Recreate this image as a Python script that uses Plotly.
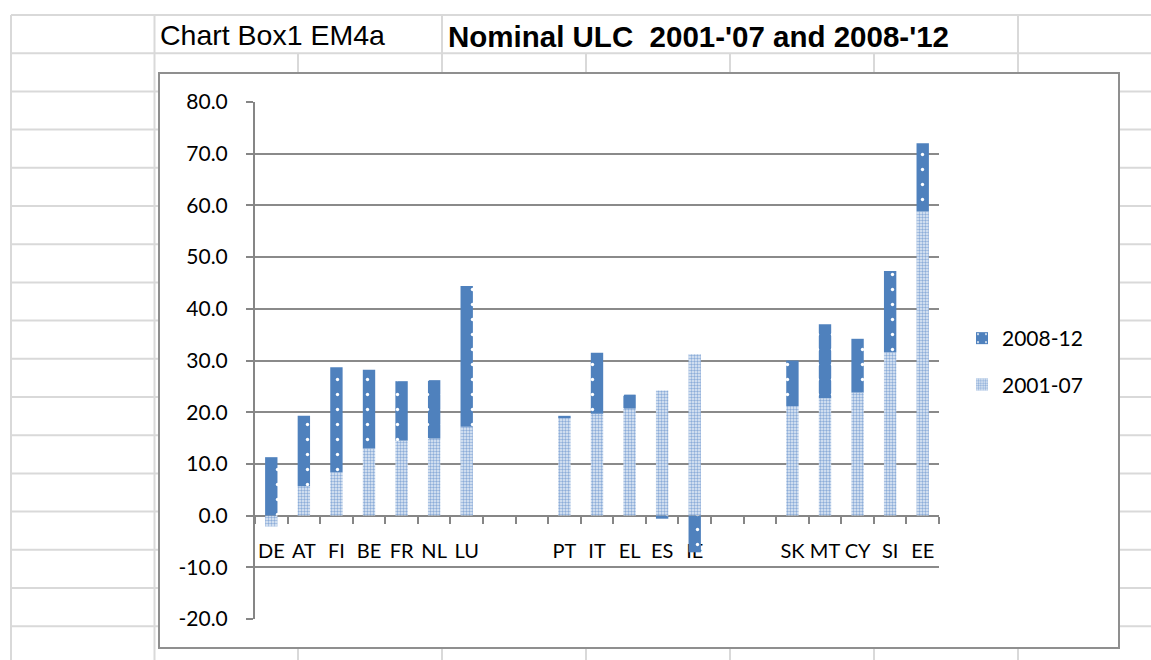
import plotly.graph_objects as go

# Countries in chart order; blank slots separate the three country groups
categories = ["DE", "AT", "FI", "BE", "FR", "NL", "LU", " ", "  ",
              "PT", "IT", "EL", "ES", "IE", "   ", "    ",
              "SK", "MT", "CY", "SI", "EE"]
countries = ["DE", "AT", "FI", "BE", "FR", "NL", "LU",
             "PT", "IT", "EL", "ES", "IE",
             "SK", "MT", "CY", "SI", "EE"]
ulc_2001_07 = [-2.1, 5.7, 8.4, 13.0, 14.5, 14.9, 17.2,
               19.0, 19.7, 20.7, 24.2, 31.2,
               21.2, 22.7, 23.8, 31.6, 58.8]
ulc_2008_12 = [11.3, 13.6, 20.3, 15.2, 11.5, 11.3, 27.2,
               0.3, 11.8, 2.7, -0.6, -7.1,
               8.8, 14.3, 10.4, 15.7, 13.2]
y_ticks = [-20, -10, 0, 10, 20, 30, 40, 50, 60, 70, 80]
y_ticktext = ["%.1f" % v for v in y_ticks]

W, H = 1151, 660
PL, PR, PT, PB = 255, 939, 102, 619   # plot area in pixels


def fx(x):
    return (x - PL) / (PR - PL)


def fy(y):
    return (PB - y) / (PB - PT)


GRID = "#d9d9d9"
shapes = []


def hline(y, x0, x1, color=GRID, width=2):
    shapes.append(dict(type="line", xref="paper", yref="paper", layer="below",
                       x0=fx(x0), x1=fx(x1), y0=fy(y), y1=fy(y),
                       line=dict(color=color, width=width)))


def vline(x, y0, y1, color=GRID, width=2):
    shapes.append(dict(type="line", xref="paper", yref="paper", layer="below",
                       x0=fx(x), x1=fx(x), y0=fy(y0), y1=fy(y1),
                       line=dict(color=color, width=width)))


# worksheet cell grid behind the chart object
rows = [15 + 38.2 * k for k in range(18)]
cols = [11, 154.5, 298, 442, 586, 730, 874, 1018]
for r in rows:
    hline(r, 11, W + 5)
for c in cols:
    vline(c, 53, H + 5)
for c in [11, 154.5, 442, 1018]:
    vline(c, 15, 53)

# chart object frame
shapes.append(dict(type="rect", xref="paper", yref="paper", layer="below",
                   x0=fx(159), x1=fx(1119), y0=fy(73), y1=fy(648),
                   fillcolor="white", line=dict(color="#8f8f8f", width=2)))

fig = go.Figure()
fig.add_trace(go.Bar(
    x=countries, y=ulc_2001_07, name="2001-07",
    marker=dict(color="#a9c1e2", line=dict(width=0),
                pattern=dict(shape=".", fillmode="replace", bgcolor="#e5edf7",
                             fgcolor="#8dadd9", size=3, solidity=0.5)),
    legendgroup="lower", legendrank=2,
))
fig.add_trace(go.Bar(
    x=countries, y=ulc_2008_12, name="2008-12",
    marker=dict(color="#4f81bd", line=dict(width=0),
                pattern=dict(shape=".", fillmode="replace", bgcolor="#4f81bd",
                             fgcolor="white", size=15, solidity=0.04)),
    legendgroup="upper", legendrank=1,
))

fig.update_layout(
    width=W, height=H, autosize=False,
    margin=dict(l=PL, r=W - PR, t=PT, b=H - PB, pad=0),
    paper_bgcolor="white", plot_bgcolor="rgba(0,0,0,0)",
    barmode="relative", bargap=0.62,
    font=dict(family="Lato", size=21, color="black"),
    shapes=shapes,
    showlegend=True,
    legend=dict(x=fx(962), y=fy(318), xanchor="left", yanchor="top",
                traceorder="grouped", tracegroupgap=16,
                itemwidth=30, font=dict(family="Lato", size=21),
                bgcolor="rgba(0,0,0,0)"),
    annotations=[
        dict(text="Chart Box1 EM4a", xref="paper", yref="paper",
             x=fx(158), y=fy(35), xanchor="left", yanchor="middle",
             showarrow=False,
             font=dict(family="Liberation Sans", size=28.5, color="black")),
        dict(text="<b>Nominal ULC\u00a0\u00a02001-'07 and 2008-'12</b>",
             xref="paper", yref="paper",
             x=fx(446), y=fy(36), xanchor="left", yanchor="middle",
             showarrow=False,
             font=dict(family="Liberation Sans", size=29.5, color="black")),
    ],
)

fig.update_yaxes(
    range=[-20, 80], tickmode="array", tickvals=y_ticks, ticktext=y_ticktext,
    showgrid=True, gridcolor="#8a8a8a", gridwidth=1.5,
    zeroline=False, showline=True, linecolor="#868686", linewidth=2,
    ticks="outside", ticklen=7, tickcolor="#868686", tickwidth=1.5,
    ticklabelstandoff=14,
    tickfont=dict(family="Lato", size=21, color="black"),
)
fig.update_xaxes(
    type="category", categoryorder="array", categoryarray=categories,
    range=[-0.5, len(categories) - 0.5],
    anchor="free", position=0.2,
    showline=True, linecolor="#868686", linewidth=2,
    ticks="outside", tickson="boundaries", ticklen=7,
    tickcolor="#868686", tickwidth=1.5,
    showgrid=False, layer="below traces",
    tickangle=0, ticklabelstandoff=17,
    tickfont=dict(family="Lato", size=20, color="black"),
)

fig.write_html("out.html")
